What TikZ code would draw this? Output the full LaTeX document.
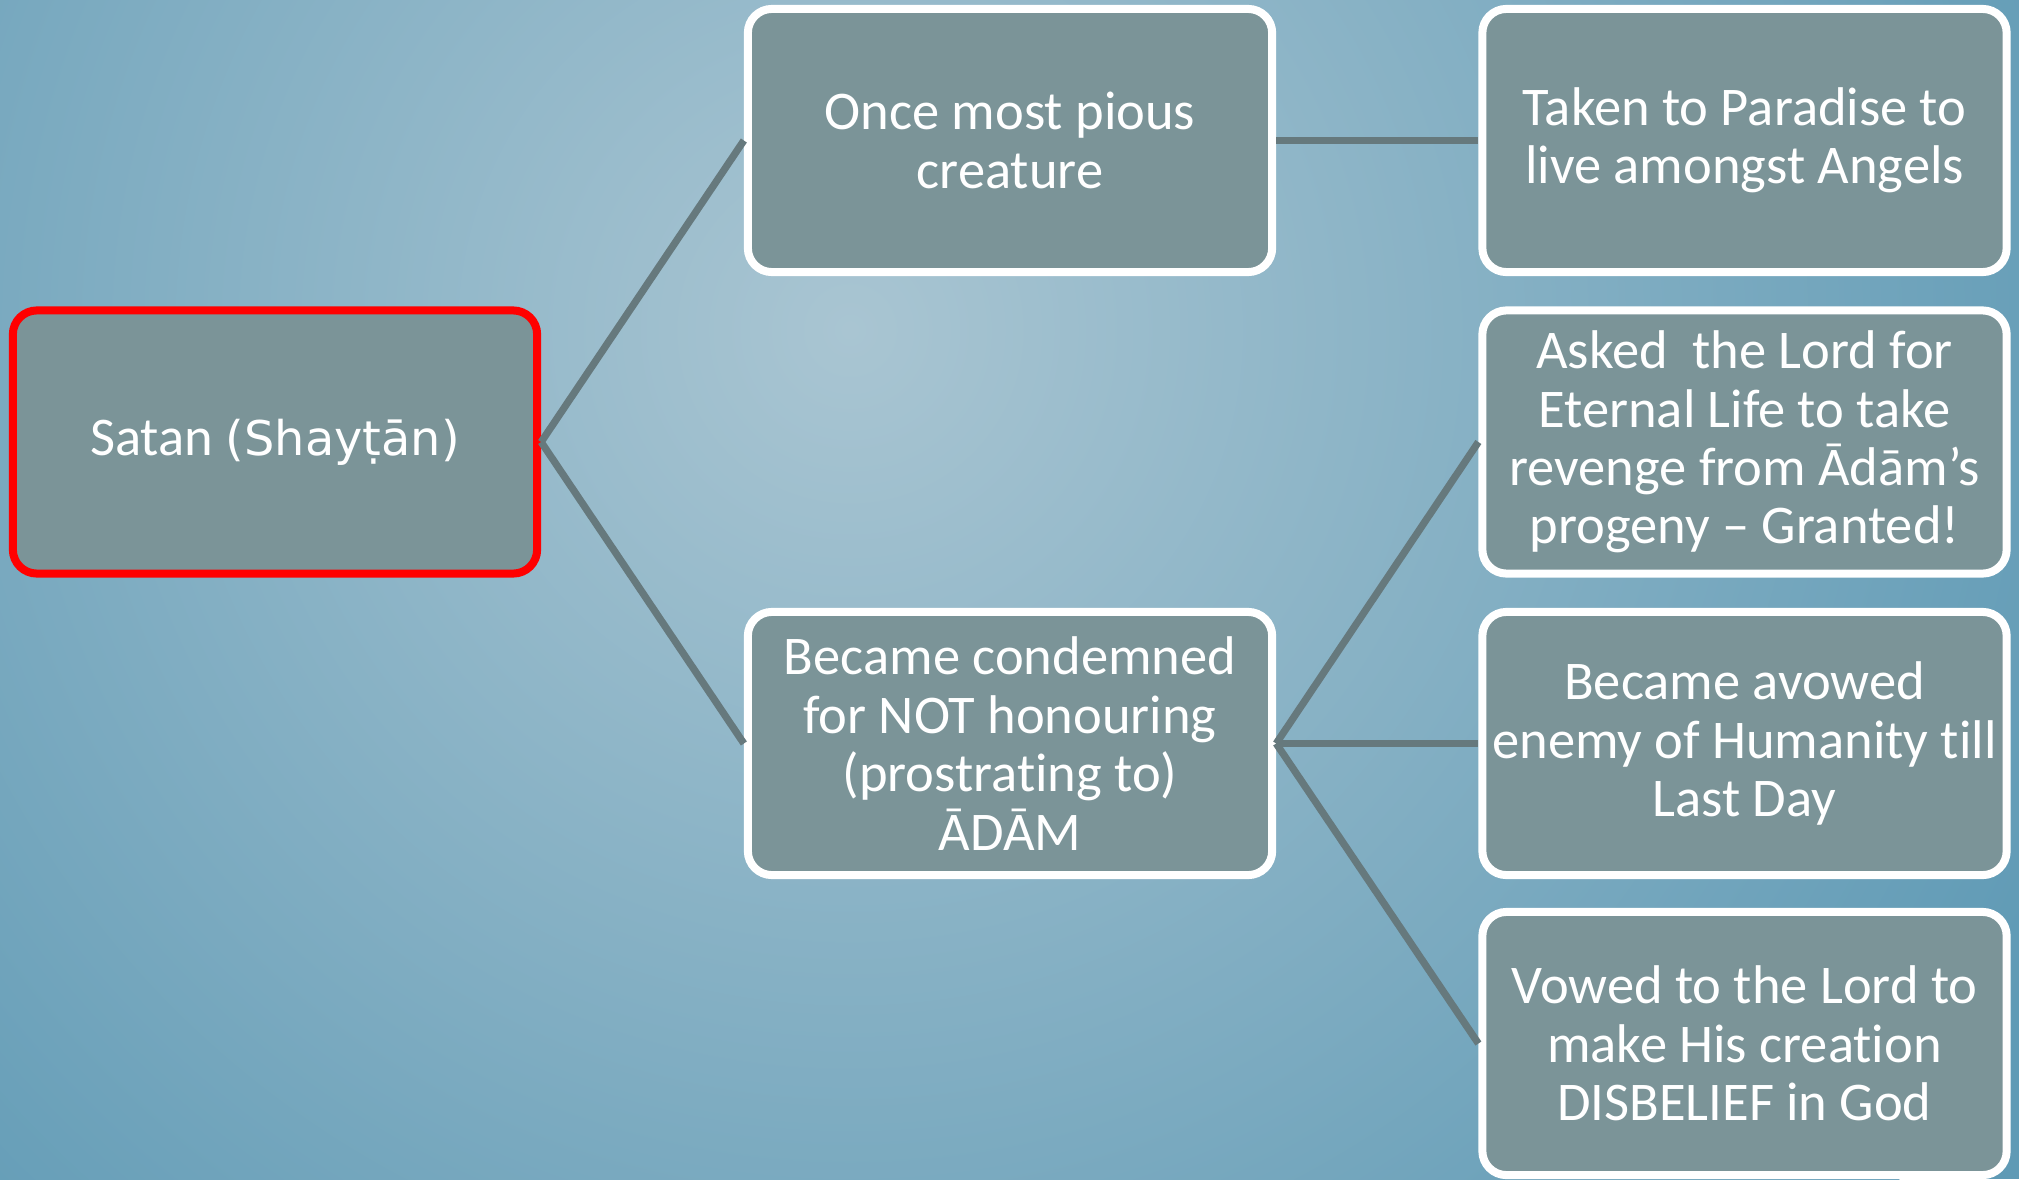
\documentclass[tikz,border=0pt]{standalone}
\usepackage{fontspec}
\setmainfont{Carlito}[Ligatures={NoCommon}]
\newfontfamily\dejavu{DejaVu Sans}
\definecolor{bgin}{HTML}{A9C5D2}
\definecolor{bgout}{HTML}{5F9AB5}
\definecolor{boxfill}{HTML}{7B9498}
\definecolor{linkcol}{HTML}{66797D}
\definecolor{satanred}{HTML}{FF0000}
\tikzset{
  card/.style={draw=white, line width=0.08cm, fill=boxfill, rounded corners=0.24cm,
    minimum width=5.24cm, minimum height=2.63cm, inner sep=0pt, align=center,
    text=white, font=\fontsize{15.5pt}{16.6pt}\selectfont},
  redcard/.style={card, draw=satanred},
  link/.style={draw=linkcol, line width=0.072cm}
}
\begin{document}
\begin{tikzpicture}[x=0.01cm,y=-0.01cm]
\useasboundingbox (0,0) rectangle (2019,1179);
\fill[bgout] (0,0) rectangle (2019,1179);
\begin{scope}
\clip (0,0) rectangle (2019,1179);
\shade[inner color=bgin, outer color=bgout] (850,330) circle (1350);
\end{scope}
\node[redcard] (satan) at (275,442) {Satan {\dejavu\fontsize{13.6pt}{16pt}\selectfont (Shayṭān)}};
\node[card] (once) at (1010,140.5) {Once most pious\\creature};
\node[card] (cond) at (1010,743.5) {Became condemned\\for NOT honouring\\(prostrating to)\\ĀDĀM};
\node[card] (taken) at (1744.5,140.5) {Taken to Paradise to\\live amongst Angels};
\node[card] (asked) at (1744.5,442) {Asked~ the Lord for\\Eternal Life to take\\revenge from Ādām’s\\progeny – Granted!};
\node[card] (avowed) at (1744.5,743.5) {Became avowed\\enemy of Humanity till\\Last Day};
\node[card] (vowed) at (1744.5,1043.5) {Vowed to the Lord to\\make His creation\\DISBELIEF in God};
\draw[link] (satan.east) -- (once.west);
\draw[link] (satan.east) -- (cond.west);
\draw[link] (once.east) -- (taken.west);
\draw[link] (cond.east) -- (asked.west);
\draw[link] (cond.east) -- (avowed.west);
\draw[link] (cond.east) -- (vowed.west);
\end{tikzpicture}
\end{document}
